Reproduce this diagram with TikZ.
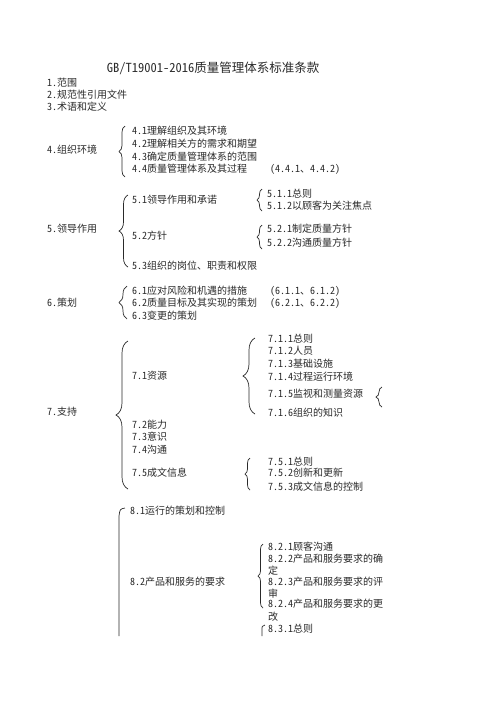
\documentclass[tikz,border=0pt]{standalone}
\usepackage{fontspec}
\setmainfont{Noto Sans CJK SC}[RawFeature=+hwid]
\usetikzlibrary{decorations.pathreplacing}
\definecolor{ink}{HTML}{2A2A2A}
\begin{document}
\begin{tikzpicture}[x=1pt,y=-1pt,
  txt/.style={anchor=west,inner sep=0pt,text=ink,font=\fontsize{10}{12}\selectfont},
  ttl/.style={inner sep=0pt,text=ink,font=\fontsize{12.5}{14}\selectfont},
  brc/.style={draw=ink,line width=0.7pt,decorate,decoration={brace,amplitude=#1}},
  open/.style={draw=ink,line width=0.7pt}]
\useasboundingbox[fill=white] (0,0) rectangle (496,702);
% title
\node[ttl] (title) at (213,68) {GB/T19001-2016质量管理体系标准条款};
% 1-3
\node[txt] (c1) at (47,83) {1.范围};
\node[txt] (c2) at (47,95) {2.规范性引用文件};
\node[txt] (c3) at (47,107) {3.术语和定义};
% 4
\node[txt] (c4) at (47,150) {4.组织环境};
\node[txt] (c41) at (132,131) {4.1理解组织及其环境};
\node[txt] (c42) at (132,144) {4.2理解相关方的需求和期望};
\node[txt] (c43) at (132,157) {4.3确定质量管理体系的范围};
\node[txt] (c44) at (132,169) {4.4质量管理体系及其过程};
\node[txt] (c44r) at (270,169) {（4.4.1、4.4.2）};
\coordinate (b4t) at (125,126); \coordinate (b4b) at (125,177);
\draw[brc=6pt] (b4b) -- (b4t);
% 5
\node[txt] (c5) at (47,229) {5.领导作用};
\node[txt] (c51) at (132,200) {5.1领导作用和承诺};
\node[txt] (c511) at (267,194) {5.1.1总则};
\node[txt] (c512) at (267,206) {5.1.2以顾客为关注焦点};
\node[txt] (c52) at (132,236) {5.2方针};
\node[txt] (c521) at (267,229) {5.2.1制定质量方针};
\node[txt] (c522) at (267,243) {5.2.2沟通质量方针};
\node[txt] (c53) at (132,266) {5.3组织的岗位、职责和权限};
\coordinate (b5t) at (128,195); \coordinate (b5b) at (128,267);
\draw[brc=9pt] (b5b) -- (b5t);
\coordinate (b51t) at (262,189); \coordinate (b51b) at (262,211);
\draw[brc=5pt] (b51b) -- (b51t);
\coordinate (b52t) at (262,225); \coordinate (b52b) at (262,249);
\draw[brc=5pt] (b52b) -- (b52t);
% 6
\node[txt] (c6) at (47,303) {6.策划};
\node[txt] (c61) at (132,291) {6.1应对风险和机遇的措施};
\node[txt] (c62) at (132,303) {6.2质量目标及其实现的策划};
\node[txt] (c63) at (132,316) {6.3变更的策划};
\node[txt] (c61r) at (270,291) {（6.1.1、6.1.2）};
\node[txt] (c62r) at (270,303) {（6.2.1、6.2.2）};
\coordinate (b6t) at (127,286); \coordinate (b6b) at (127,319);
\draw[brc=8pt] (b6b) -- (b6t);
% 7
\node[txt] (c7) at (47,412) {7.支持};
\node[txt] (c71) at (132,376) {7.1资源};
\node[txt] (c711) at (268,339) {7.1.1总则};
\node[txt] (c712) at (268,351) {7.1.2人员};
\node[txt] (c713) at (268,364) {7.1.3基础设施};
\node[txt] (c714) at (268,377) {7.1.4过程运行环境};
\node[txt] (c715) at (268,394) {7.1.5监视和测量资源};
\node[txt] (c716) at (268,413) {7.1.6组织的知识};
\node[txt] (c72) at (132,425) {7.2能力};
\node[txt] (c73) at (132,437) {7.3意识};
\node[txt] (c74) at (132,450) {7.4沟通};
\node[txt] (c75) at (132,473) {7.5成文信息};
\node[txt] (c751) at (268,462) {7.5.1总则};
\node[txt] (c752) at (268,473) {7.5.2创新和更新};
\node[txt] (c753) at (268,487) {7.5.3成文信息的控制};
\coordinate (b7t) at (128,341); \coordinate (b7b) at (128,489);
\draw[brc=12pt] (b7b) -- (b7t);
\coordinate (b71t) at (255,338); \coordinate (b71b) at (255,414);
\draw[brc=12pt] (b71b) -- (b71t);
\coordinate (b715t) at (382,387); \coordinate (b715b) at (382,407);
\draw[brc=6pt] (b715b) -- (b715t);
\coordinate (b75t) at (250,458); \coordinate (b75b) at (250,490);
\draw[brc=5pt] (b75b) -- (b75t);
% 8
\node[txt] (c81) at (130,511) {8.1运行的策划和控制};
\node[txt] (c82) at (130,582) {8.2产品和服务的要求};
\node[txt] (c821) at (268,547) {8.2.1顾客沟通};
\node[txt] (c822) at (268,559) {8.2.2产品和服务要求的确};
\node[txt] (c822b) at (268,571) {定};
\node[txt] (c823) at (268,582) {8.2.3产品和服务要求的评};
\node[txt] (c823b) at (268,594) {审};
\node[txt] (c824) at (268,604) {8.2.4产品和服务要求的更};
\node[txt] (c824b) at (268,617) {改};
\node[txt] (c831) at (268,629) {8.3.1总则};
\coordinate (b82t) at (263,544); \coordinate (b82b) at (263,608);
\draw[brc=5pt] (b82b) -- (b82t);
\coordinate (b8t) at (125,508); \coordinate (b8c) at (119,516); \coordinate (b8e) at (119,636);
\draw[open] (b8t) .. controls (120,509) .. (b8c) -- (b8e);
\coordinate (b83t) at (265,625); \coordinate (b83c) at (262,630); \coordinate (b83e) at (262,636);
\draw[open] (b83t) .. controls (262,626) .. (b83c) -- (b83e);
\end{tikzpicture}
\end{document}
